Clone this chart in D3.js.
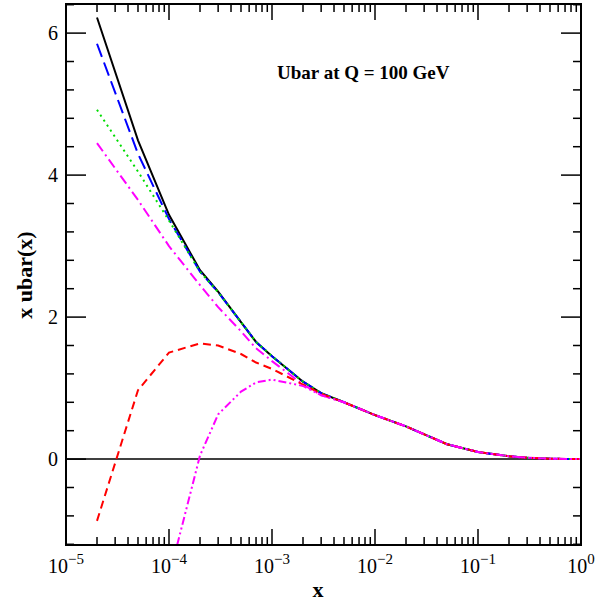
<!DOCTYPE html><html><head><script src="https://cdn.jsdelivr.net/npm/d3@7"></script>
<style>body{margin:0;background:#fff}text{font-family:"Liberation Serif",serif}</style></head><body>
<svg id="c" width="600" height="602"></svg>
<script>
const xs=[2e-5,5e-5,1e-4,2e-4,3e-4,5e-4,7e-4,1e-3,2e-3,3e-3,5e-3,1e-2,2e-2,5e-2,0.1,0.2,0.3,0.5,1];
const tail=[0.8,0.62,0.46,0.21,0.1,0.04,0.02,0.005,0];
const black=[6.22,4.49,3.44,2.66,2.36,1.93,1.65,1.45,1.09,0.93].concat(tail);
const blue=[5.85,4.3,3.38,2.64,2.35,1.93,1.65,1.45,1.09,0.93].concat(tail);
const green=[4.92,4.05,3.36,2.64,2.35,1.93,1.65,1.45,1.09,0.93].concat(tail);
const magenta=[4.45,3.65,3.0,2.45,2.14,1.8,1.56,1.38,1.05,0.9].concat(tail);
const red=[-0.87,0.97,1.5,1.63,1.6,1.48,1.36,1.27,1.05,0.92].concat(tail);
const xs2=[1.2e-4,2e-4,3e-4,5e-4,7e-4,1e-3,2e-3,3e-3,5e-3,1e-2,2e-2,5e-2,0.1,0.2,0.3,0.5,1];
const magenta2=[-1.21,0.05,0.63,0.95,1.08,1.12,1.03,0.9].concat(tail);
const xTickLabels=["−5","−4","−3","−2","−1","0"];
const svg=d3.select("#c");
const L=66,R=581,T=4,B=545;
const x=d3.scaleLog().domain([1e-5,1]).range([L,R]);
const y=d3.scaleLinear().domain([-1.21,6.41]).range([B,T]);
const g=svg.append("g");
const minorX=[];for(let e=-5;e<0;e++)for(let k=2;k<10;k++)minorX.push(k*10**e);
const majX=d3.range(-5,1).map(e=>10**e);
majX.forEach(v=>{[[B,-16],[T,16]].forEach(([b,d])=>g.append("line").attr("x1",x(v)).attr("x2",x(v)).attr("y1",b).attr("y2",b+d).attr("stroke","#000").attr("stroke-width",1.5));});
minorX.forEach(v=>{[[B,-8],[T,8]].forEach(([b,d])=>g.append("line").attr("x1",x(v)).attr("x2",x(v)).attr("y1",b).attr("y2",b+d).attr("stroke","#000").attr("stroke-width",1.5));});
const minY=d3.range(-1.2,6.41,0.4).map(v=>+v.toFixed(1));
minY.forEach(v=>{const maj=[0,2,4,6].includes(v);const len=maj?20:8;
 [[L,len],[R,-len]].forEach(([b,d])=>g.append("line").attr("x1",b).attr("x2",b+d).attr("y1",y(v)).attr("y2",y(v)).attr("stroke","#000").attr("stroke-width",1.5));});
[0,2,4,6].forEach(v=>g.append("text").attr("x",L-8).attr("y",y(v)+7).attr("text-anchor","end").attr("font-size",20).text(v));
majX.forEach((v,i)=>{const t=g.append("text").attr("x",x(v)).attr("y",B+28).attr("text-anchor","middle").attr("font-size",20);
 t.append("tspan").text("10");t.append("tspan").attr("dy",-9).attr("font-size",15).text(xTickLabels[i]);});
g.append("line").attr("x1",L).attr("x2",R).attr("y1",y(0)).attr("y2",y(0)).attr("stroke","#000").attr("stroke-width",1.5);
const line=d3.line().x(d=>x(d[0])).y(d=>y(d[1]));
const ser=[[xs,black,"#000",null],[xs,blue,"#0000ff","14,6"],[xs,green,"#00dd00","2,4"],[xs,magenta,"#ff00ff","10,4,2,4"],[xs,red,"#ff0000","8,5"],[xs2,magenta2,"#ff00ff","8,3,2,3,2,3"]];
ser.forEach(([xx,yy,c,da])=>g.append("path").attr("d",line(xx.map((v,i)=>[v,yy[i]]))).attr("fill","none").attr("stroke",c).attr("stroke-width",2).attr("stroke-dasharray",da));
g.append("rect").attr("x",L).attr("y",T).attr("width",R-L).attr("height",B-T).attr("fill","none").attr("stroke","#000").attr("stroke-width",2);
g.append("text").attr("x",277).attr("y",79).attr("font-size",19).attr("font-weight","bold").text("Ubar at Q = 100 GeV");
g.append("text").attr("x",318).attr("y",597).attr("text-anchor","middle").attr("font-size",22).attr("font-weight","bold").text("x");
g.append("text").attr("transform","translate(32,275) rotate(-90)").attr("text-anchor","middle").attr("font-size",22).attr("font-weight","bold").text("x ubar(x)");
</script></body></html>
